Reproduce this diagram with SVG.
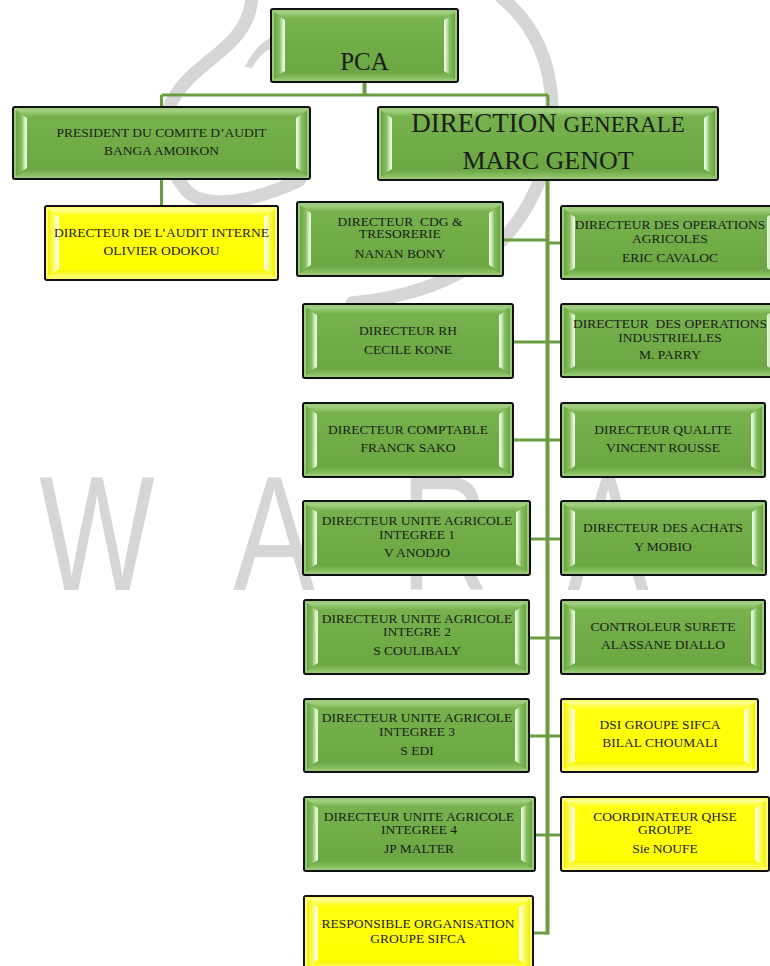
<svg xmlns="http://www.w3.org/2000/svg" width="770" height="966" viewBox="0 0 770 966">
<defs>
<linearGradient id="gG" x1="0" y1="0" x2="0" y2="1"><stop offset="0" stop-color="#78b350"/><stop offset="0.5" stop-color="#70ad47"/><stop offset="1" stop-color="#69a541"/></linearGradient>
<linearGradient id="gY" x1="0" y1="0" x2="0" y2="1"><stop offset="0" stop-color="#ffff10"/><stop offset="1" stop-color="#ffff00"/></linearGradient>
<linearGradient id="bLG" x1="0" y1="0" x2="1" y2="0"><stop offset="0" stop-color="#6aa642"/><stop offset="0.5" stop-color="#86bd5e"/><stop offset="0.8" stop-color="#d6eec4"/><stop offset="1" stop-color="#f2fbea"/></linearGradient>
<linearGradient id="bRG" x1="1" y1="0" x2="0" y2="0"><stop offset="0" stop-color="#6aa642"/><stop offset="0.5" stop-color="#86bd5e"/><stop offset="0.8" stop-color="#d6eec4"/><stop offset="1" stop-color="#f2fbea"/></linearGradient>
<linearGradient id="bLY" x1="0" y1="0" x2="1" y2="0"><stop offset="0" stop-color="#f0f000"/><stop offset="0.5" stop-color="#fafa60"/><stop offset="0.8" stop-color="#fdfdc8"/><stop offset="1" stop-color="#ffffee"/></linearGradient>
<linearGradient id="bRY" x1="1" y1="0" x2="0" y2="0"><stop offset="0" stop-color="#f0f000"/><stop offset="0.5" stop-color="#fafa60"/><stop offset="0.8" stop-color="#fdfdc8"/><stop offset="1" stop-color="#ffffee"/></linearGradient>
<linearGradient id="tG" x1="0" y1="0" x2="0" y2="1"><stop offset="0" stop-color="#a6d486"/><stop offset="1" stop-color="#74b04b"/></linearGradient>
<linearGradient id="btG" x1="0" y1="0" x2="0" y2="1"><stop offset="0" stop-color="#6aa642"/><stop offset="1" stop-color="#8cc466"/></linearGradient>
<linearGradient id="tY" x1="0" y1="0" x2="0" y2="1"><stop offset="0" stop-color="#ffffa0"/><stop offset="1" stop-color="#ffff10"/></linearGradient>
<linearGradient id="btY" x1="0" y1="0" x2="0" y2="1"><stop offset="0" stop-color="#f4f400"/><stop offset="1" stop-color="#ffff70"/></linearGradient>
</defs>
<style>
.wm{fill:#d6d6d6;font-family:"Liberation Sans",Arial,sans-serif;font-size:163px;text-anchor:middle}
.sw{fill:none;stroke:#d6d6d6;stroke-width:13;stroke-linecap:round}
.cn{fill:none;stroke:#6a9d3f;stroke-width:3}
.box{stroke:#111;stroke-width:2}
.g{fill:url(#gG)}.y{fill:url(#gY)}
.eg{fill:none;stroke:#b7dc9e;stroke-width:1.2}.ey{fill:none;stroke:#ffffb4;stroke-width:1.2}
.blg{fill:url(#bLG)}.brg{fill:url(#bRG)}.bly{fill:url(#bLY)}.bry{fill:url(#bRY)}
.tg{fill:url(#tG)}.bg{fill:url(#btG)}.ty{fill:url(#tY)}.by{fill:url(#btY)}
.t{font-family:"Liberation Serif","Times New Roman",serif;font-size:13.5px;fill:#1c1c1c;text-anchor:middle}
.pre{white-space:pre}
</style>
<rect width="770" height="966" fill="#fff"/>
<g id="watermark">
<path class="sw" d="M252 -2C250 20 240 35 220 52C195 72 178 85 168 110C160 130 165 165 186 190C200 206 240 208 300 180"/>
<path class="sw" d="M502 -2C535 25 553 65 552 115C551 170 528 218 490 252C452 284 402 298 352 303"/>
<path fill="#d6d6d6" d="M270 38C259 44 250 55 245 67L252 68C257 59 263 52 272 48Z"/>
<text class="wm" transform="translate(97 590) scale(0.75 1)">W</text>
<text class="wm" transform="translate(274 590) scale(0.75 1)">A</text>
<text class="wm" transform="translate(445 590) scale(0.75 1)">R</text>
<text class="wm" transform="translate(608 590) scale(0.75 1)">A</text>
</g>
<g id="connectors">
<path class="cn" style="stroke-width:4" d="M364.5 82V96"/>
<path class="cn" d="M161.5 95H548M161.5 95V107M548 95V107M161.5 179V206"/>
<path class="cn" style="stroke-width:4" d="M547.5 180V934.5"/>
<path class="cn" d="M503 240H547.5M547.5 243H561M513 342H561M513 440H561M530 539H561M529 638H561M529 736H561M535 835H561M533 933H549"/>
</g>
<g id="pca" transform="translate(271 9)">
<rect class="box g" width="187" height="73" rx="2"/>
<path class="tg" d="M3 3H184L173 10H14Z"/><path class="bg" d="M3 70H184L173 63H14Z"/>
<path class="blg" d="M3 4L14 11V62L3 69Z"/><path class="brg" d="M184 4L173 11V62L184 69Z"/>
<rect class="eg" x="2" y="2" width="183" height="69"/>
<text class="t" x="93.5" y="61" style="font-size:25px">PCA</text>
</g>
<g id="president" transform="translate(13 107)">
<rect class="box g" width="297" height="72" rx="2"/>
<path class="tg" d="M3 3H294L283 10H14Z"/><path class="bg" d="M3 69H294L283 62H14Z"/>
<path class="blg" d="M3 4L14 11V61L3 68Z"/><path class="brg" d="M294 4L283 11V61L294 68Z"/>
<rect class="eg" x="2" y="2" width="293" height="68"/>
<text class="t" x="148.5" y="30">PRESIDENT DU COMITE D’AUDIT</text>
<text class="t" x="148.5" y="48">BANGA AMOIKON</text>
</g>
<g id="dg" transform="translate(378 107)">
<rect class="box g" width="340" height="73" rx="2"/>
<path class="tg" d="M3 3H337L326 10H14Z"/><path class="bg" d="M3 70H337L326 63H14Z"/>
<path class="blg" d="M3 4L14 11V62L3 69Z"/><path class="brg" d="M337 4L326 11V62L337 69Z"/>
<rect class="eg" x="2" y="2" width="336" height="69"/>
<text class="t" x="170" y="25" style="font-size:27px">DIRECTION <tspan style="font-size:23px">GENERALE</tspan></text>
<text class="t" x="170" y="62" style="font-size:26px">MARC GENOT</text>
</g>
<g id="audit" transform="translate(45 206)">
<rect class="box y" width="233" height="74" rx="2"/>
<path class="ty" d="M3 3H230L219 10H14Z"/><path class="by" d="M3 71H230L219 64H14Z"/>
<path class="bly" d="M3 4L14 11V63L3 70Z"/><path class="bry" d="M230 4L219 11V63L230 70Z"/>
<rect class="ey" x="2" y="2" width="229" height="70"/>
<text class="t" x="116.5" y="31">DIRECTEUR DE L’AUDIT INTERNE</text>
<text class="t" x="116.5" y="49">OLIVIER ODOKOU</text>
</g>
<g id="cdg" transform="translate(297 202)">
<rect class="box g" width="206" height="74" rx="2"/>
<path class="tg" d="M3 3H203L192 10H14Z"/><path class="bg" d="M3 71H203L192 64H14Z"/>
<path class="blg" d="M3 4L14 11V63L3 70Z"/><path class="brg" d="M203 4L192 11V63L203 70Z"/>
<rect class="eg" x="2" y="2" width="202" height="70"/>
<text class="t pre" xml:space="preserve" x="103" y="24">DIRECTEUR  CDG &amp;</text>
<text class="t" x="103" y="36">TRESORERIE</text>
<text class="t" x="103" y="56">NANAN BONY</text>
</g>
<g id="ops-agricoles" transform="translate(561 206)">
<rect class="box g" width="220" height="73" rx="2"/>
<path class="tg" d="M3 3H217L206 10H14Z"/><path class="bg" d="M3 70H217L206 63H14Z"/>
<path class="blg" d="M3 4L14 11V62L3 69Z"/><path class="brg" d="M217 4L206 11V62L217 69Z"/>
<rect class="eg" x="2" y="2" width="216" height="69"/>
<text class="t" x="109" y="23">DIRECTEUR DES OPERATIONS</text>
<text class="t" x="109" y="37">AGRICOLES</text>
<text class="t" x="109" y="56">ERIC CAVALOC</text>
</g>
<g id="rh" transform="translate(303 304)">
<rect class="box g" width="210" height="74" rx="2"/>
<path class="tg" d="M3 3H207L196 10H14Z"/><path class="bg" d="M3 71H207L196 64H14Z"/>
<path class="blg" d="M3 4L14 11V63L3 70Z"/><path class="brg" d="M207 4L196 11V63L207 70Z"/>
<rect class="eg" x="2" y="2" width="206" height="70"/>
<text class="t" x="105" y="31">DIRECTEUR RH</text>
<text class="t" x="105" y="50">CECILE KONE</text>
</g>
<g id="ops-industrielles" transform="translate(561 304)">
<rect class="box g" width="220" height="73" rx="2"/>
<path class="tg" d="M3 3H217L206 10H14Z"/><path class="bg" d="M3 70H217L206 63H14Z"/>
<path class="blg" d="M3 4L14 11V62L3 69Z"/><path class="brg" d="M217 4L206 11V62L217 69Z"/>
<rect class="eg" x="2" y="2" width="216" height="69"/>
<text class="t pre" xml:space="preserve" x="109" y="24">DIRECTEUR  DES OPERATIONS</text>
<text class="t" x="109" y="38">INDUSTRIELLES</text>
<text class="t" x="109" y="55">M. PARRY</text>
</g>
<g id="comptable" transform="translate(303 403)">
<rect class="box g" width="210" height="74" rx="2"/>
<path class="tg" d="M3 3H207L196 10H14Z"/><path class="bg" d="M3 71H207L196 64H14Z"/>
<path class="blg" d="M3 4L14 11V63L3 70Z"/><path class="brg" d="M207 4L196 11V63L207 70Z"/>
<rect class="eg" x="2" y="2" width="206" height="70"/>
<text class="t" x="105" y="31">DIRECTEUR COMPTABLE</text>
<text class="t" x="105" y="49">FRANCK SAKO</text>
</g>
<g id="qualite" transform="translate(561 403)">
<rect class="box g" width="204" height="74" rx="2"/>
<path class="tg" d="M3 3H201L190 10H14Z"/><path class="bg" d="M3 71H201L190 64H14Z"/>
<path class="blg" d="M3 4L14 11V63L3 70Z"/><path class="brg" d="M201 4L190 11V63L201 70Z"/>
<rect class="eg" x="2" y="2" width="200" height="70"/>
<text class="t" x="102" y="31">DIRECTEUR QUALITE</text>
<text class="t" x="102" y="49">VINCENT ROUSSE</text>
</g>
<g id="ua1" transform="translate(303 501)">
<rect class="box g" width="227" height="74" rx="2"/>
<path class="tg" d="M3 3H224L213 10H14Z"/><path class="bg" d="M3 71H224L213 64H14Z"/>
<path class="blg" d="M3 4L14 11V63L3 70Z"/><path class="brg" d="M224 4L213 11V63L224 70Z"/>
<rect class="eg" x="2" y="2" width="223" height="70"/>
<text class="t" x="114" y="24">DIRECTEUR UNITE AGRICOLE</text>
<text class="t" x="114" y="38">INTEGREE 1</text>
<text class="t" x="114" y="56">V ANODJO</text>
</g>
<g id="achats" transform="translate(561 501)">
<rect class="box g" width="205" height="74" rx="2"/>
<path class="tg" d="M3 3H202L191 10H14Z"/><path class="bg" d="M3 71H202L191 64H14Z"/>
<path class="blg" d="M3 4L14 11V63L3 70Z"/><path class="brg" d="M202 4L191 11V63L202 70Z"/>
<rect class="eg" x="2" y="2" width="201" height="70"/>
<text class="t" x="102" y="31">DIRECTEUR DES ACHATS</text>
<text class="t" x="102" y="50">Y MOBIO</text>
</g>
<g id="ua2" transform="translate(304 600)">
<rect class="box g" width="225" height="74" rx="2"/>
<path class="tg" d="M3 3H222L211 10H14Z"/><path class="bg" d="M3 71H222L211 64H14Z"/>
<path class="blg" d="M3 4L14 11V63L3 70Z"/><path class="brg" d="M222 4L211 11V63L222 70Z"/>
<rect class="eg" x="2" y="2" width="221" height="70"/>
<text class="t" x="113" y="23">DIRECTEUR UNITE AGRICOLE</text>
<text class="t" x="113" y="36">INTEGRE 2</text>
<text class="t" x="113" y="55">S COULIBALY</text>
</g>
<g id="surete" transform="translate(561 600)">
<rect class="box g" width="204" height="74" rx="2"/>
<path class="tg" d="M3 3H201L190 10H14Z"/><path class="bg" d="M3 71H201L190 64H14Z"/>
<path class="blg" d="M3 4L14 11V63L3 70Z"/><path class="brg" d="M201 4L190 11V63L201 70Z"/>
<rect class="eg" x="2" y="2" width="200" height="70"/>
<text class="t" x="102" y="31">CONTROLEUR SURETE</text>
<text class="t" x="102" y="49">ALASSANE DIALLO</text>
</g>
<g id="ua3" transform="translate(304 699)">
<rect class="box g" width="225" height="73" rx="2"/>
<path class="tg" d="M3 3H222L211 10H14Z"/><path class="bg" d="M3 70H222L211 63H14Z"/>
<path class="blg" d="M3 4L14 11V62L3 69Z"/><path class="brg" d="M222 4L211 11V62L222 69Z"/>
<rect class="eg" x="2" y="2" width="221" height="69"/>
<text class="t" x="113" y="23">DIRECTEUR UNITE AGRICOLE</text>
<text class="t" x="113" y="37">INTEGREE 3</text>
<text class="t" x="113" y="56">S EDI</text>
</g>
<g id="dsi" transform="translate(561 699)">
<rect class="box y" width="197" height="73" rx="2"/>
<path class="ty" d="M3 3H194L183 10H14Z"/><path class="by" d="M3 70H194L183 63H14Z"/>
<path class="bly" d="M3 4L14 11V62L3 69Z"/><path class="bry" d="M194 4L183 11V62L194 69Z"/>
<rect class="ey" x="2" y="2" width="193" height="69"/>
<text class="t" x="99" y="30">DSI GROUPE SIFCA</text>
<text class="t" x="99" y="48">BILAL CHOUMALI</text>
</g>
<g id="ua4" transform="translate(304 797)">
<rect class="box g" width="231" height="74" rx="2"/>
<path class="tg" d="M3 3H228L217 10H14Z"/><path class="bg" d="M3 71H228L217 64H14Z"/>
<path class="blg" d="M3 4L14 11V63L3 70Z"/><path class="brg" d="M228 4L217 11V63L228 70Z"/>
<rect class="eg" x="2" y="2" width="227" height="70"/>
<text class="t" x="115" y="24">DIRECTEUR UNITE AGRICOLE</text>
<text class="t" x="115" y="37">INTEGREE 4</text>
<text class="t" x="115" y="56">JP MALTER</text>
</g>
<g id="qhse" transform="translate(561 797)">
<rect class="box y" width="208" height="74" rx="2"/>
<path class="ty" d="M3 3H205L194 10H14Z"/><path class="by" d="M3 71H205L194 64H14Z"/>
<path class="bly" d="M3 4L14 11V63L3 70Z"/><path class="bry" d="M205 4L194 11V63L205 70Z"/>
<rect class="ey" x="2" y="2" width="204" height="70"/>
<text class="t" x="104" y="24">COORDINATEUR QHSE</text>
<text class="t" x="104" y="37">GROUPE</text>
<text class="t" x="104" y="56">Sie NOUFE</text>
</g>
<g id="organisation" transform="translate(304 896)">
<rect class="box y" width="229" height="75" rx="2"/>
<path class="ty" d="M3 3H226L215 10H14Z"/><path class="by" d="M3 72H226L215 65H14Z"/>
<path class="bly" d="M3 4L14 11V64L3 71Z"/><path class="bry" d="M226 4L215 11V64L226 71Z"/>
<rect class="ey" x="2" y="2" width="225" height="71"/>
<text class="t" x="114" y="32">RESPONSIBLE ORGANISATION</text>
<text class="t" x="114" y="47">GROUPE SIFCA</text>
</g>
</svg>
